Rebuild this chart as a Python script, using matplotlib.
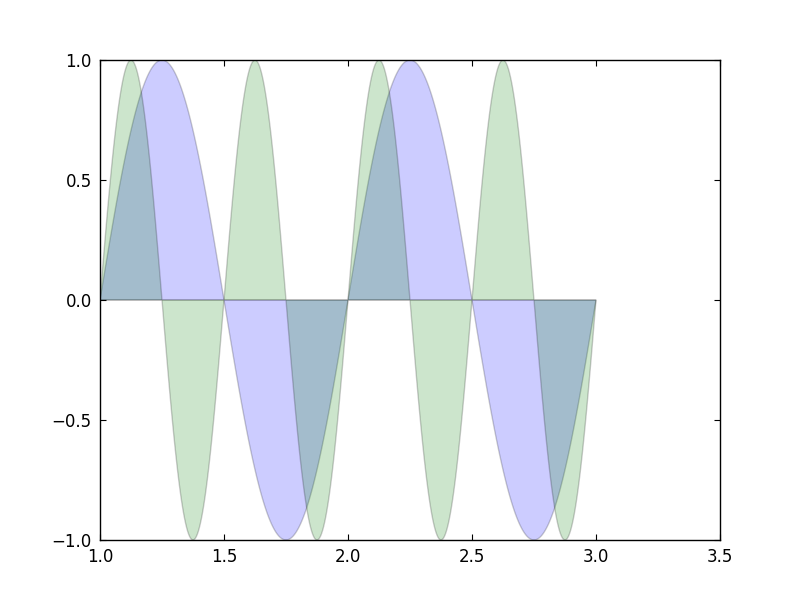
import numpy as np
import matplotlib
matplotlib.use("Agg")
import matplotlib.pyplot as plt

# Curve parameters
x_start, x_stop = 1.0, 3.0
n_points = 500
blue_period = 1.0     # sin(2*pi*x)
green_period = 0.5    # sin(4*pi*x)
amplitude = 1.0

x_ticks = [1.0, 1.5, 2.0, 2.5, 3.0, 3.5]
y_ticks = [-1.0, -0.5, 0.0, 0.5, 1.0]

x = np.linspace(x_start, x_stop, n_points)
y_blue = amplitude * np.sin(2 * np.pi * x / blue_period)
y_green = amplitude * np.sin(2 * np.pi * x / green_period)

fig = plt.figure(figsize=(8, 6), dpi=100)
ax = fig.add_axes([0.125, 0.1, 0.775, 0.8])
ax.fill(x, y_blue, facecolor=(0, 0, 1), edgecolor='k', alpha=0.2, linewidth=1)
ax.fill(x, y_green, facecolor=(0, 0.5, 0), edgecolor='k', alpha=0.2, linewidth=1)

ax.set_xlim(1.0, 3.5)
ax.set_ylim(-1.0, 1.0)
ax.set_xticks(x_ticks)
ax.set_yticks(y_ticks)
ax.set_xticklabels([f"{v:.1f}" for v in x_ticks])
ax.set_yticklabels([f"{v:.1f}".replace("-", "\u2212") for v in y_ticks])
ax.tick_params(direction='in', top=True, right=True, length=4, width=0.8,
               labelsize=12, pad=6)
for s in ax.spines.values():
    s.set_linewidth(1.0)

fig.savefig("out.png", dpi=100)
